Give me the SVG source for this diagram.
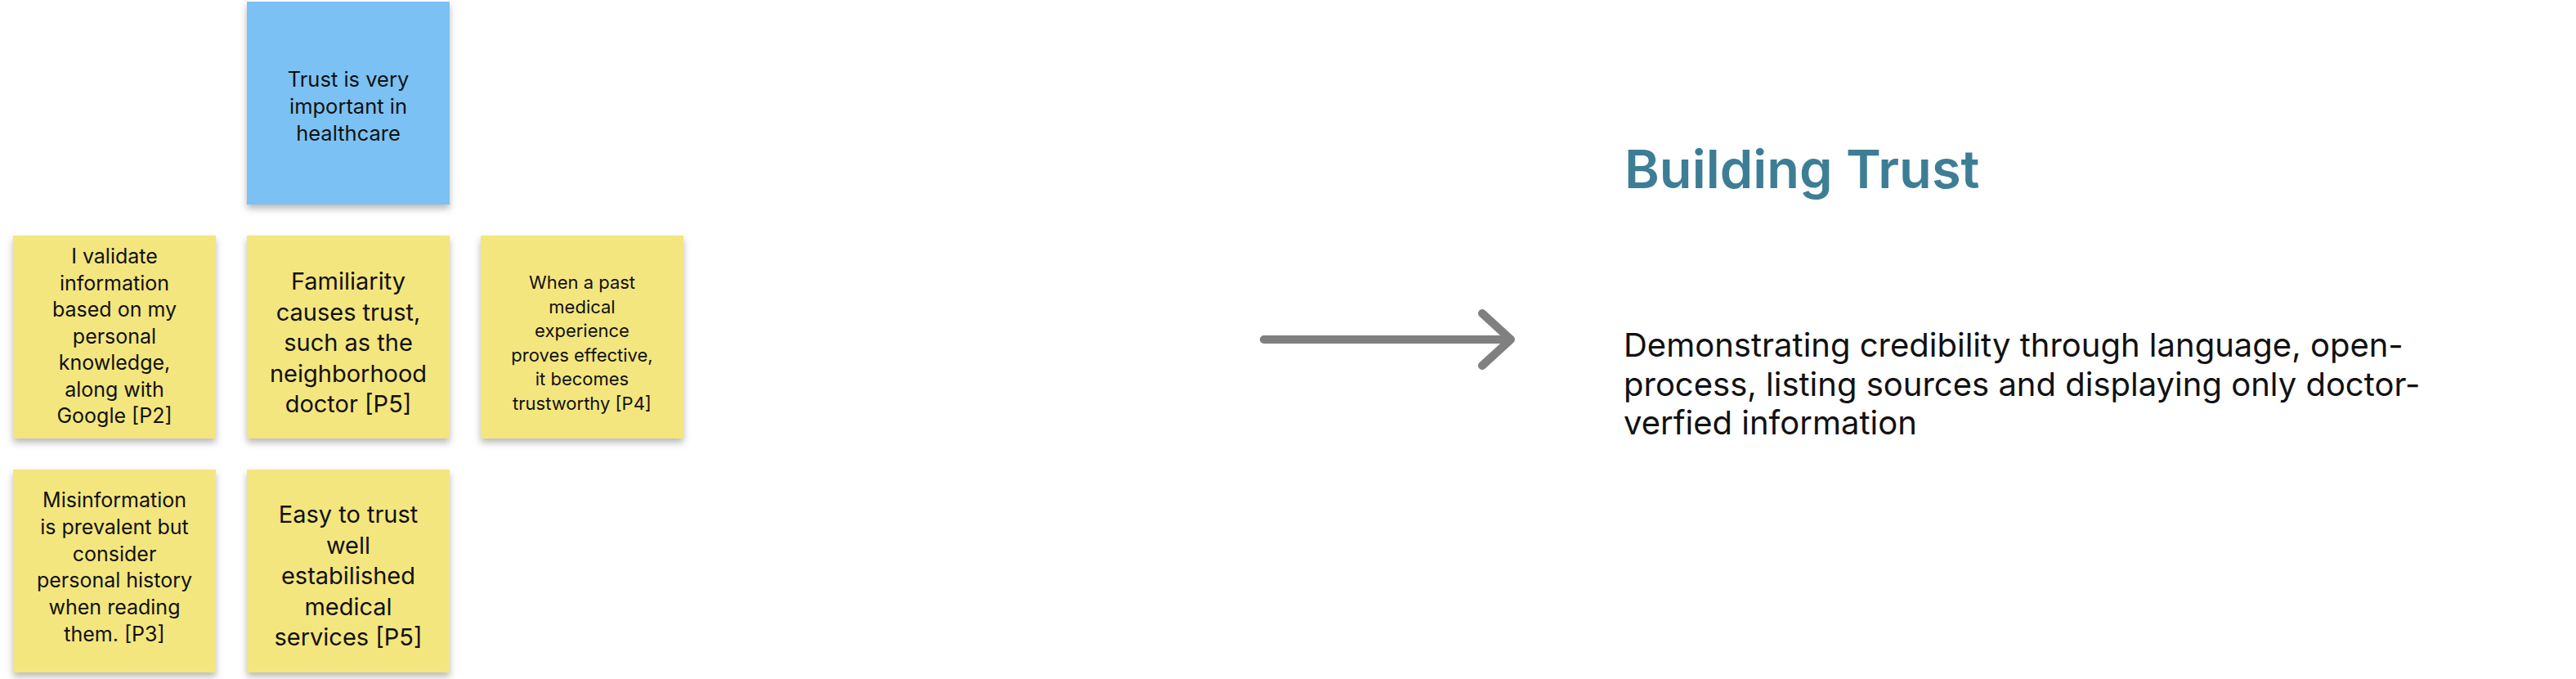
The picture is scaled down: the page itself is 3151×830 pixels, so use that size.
<svg xmlns="http://www.w3.org/2000/svg" width="3151" height="830" viewBox="0 0 3151 830">
<defs>
<filter id="sh" x="-10%" y="-10%" width="125%" height="125%">
<feDropShadow dx="0" dy="5" stdDeviation="4" flood-color="#000" flood-opacity="0.28"/>
</filter>
</defs>
<style>
.note{filter:url(#sh)}
.yellow{fill:#F4E67E}
.blue{fill:#7BC1F3}
.t{font-family:Inter,"Noto Sans","Liberation Sans",sans-serif;fill:#111;text-anchor:middle}
.arrow{stroke:#808080;stroke-width:10;fill:none;stroke-linecap:round;stroke-linejoin:round}
</style>
<rect width="3151" height="830" fill="#ffffff"/>
<g id="n-trust">
<rect class="note blue" x="302" y="2" width="248" height="248"/>
<text class="t" font-size="25.5" x="426"><tspan x="426" y="106">Trust is very</tspan><tspan x="426" y="139">important in</tspan><tspan x="426" y="172">healthcare</tspan></text>
</g>
<g id="n-validate">
<rect class="note yellow" x="16" y="288" width="248" height="248"/>
<text class="t" font-size="25" x="140"><tspan x="140" y="322">I validate</tspan><tspan x="140" y="354.5">information</tspan><tspan x="140" y="387">based on my</tspan><tspan x="140" y="419.5">personal</tspan><tspan x="140" y="452">knowledge,</tspan><tspan x="140" y="484.5">along with</tspan><tspan x="140" y="517">Google [P2]</tspan></text>
</g>
<g id="n-familiarity">
<rect class="note yellow" x="302" y="288" width="248" height="248"/>
<text class="t" font-size="29" x="426"><tspan x="426" y="354">Familiarity</tspan><tspan x="426" y="391.5">causes trust,</tspan><tspan x="426" y="429">such as the</tspan><tspan x="426" y="466.5">neighborhood</tspan><tspan x="426" y="504">doctor [P5]</tspan></text>
</g>
<g id="n-past">
<rect class="note yellow" x="588" y="288" width="248" height="248"/>
<text class="t" font-size="22" x="712"><tspan x="712" y="353">When a past</tspan><tspan x="712" y="382.6">medical</tspan><tspan x="712" y="412.2">experience</tspan><tspan x="712" y="441.8">proves effective,</tspan><tspan x="712" y="471.4">it becomes</tspan><tspan x="712" y="501">trustworthy [P4]</tspan></text>
</g>
<g id="n-misinformation">
<rect class="note yellow" x="16" y="574" width="248" height="248"/>
<text class="t" font-size="25" x="140"><tspan x="140" y="620">Misinformation</tspan><tspan x="140" y="652.8">is prevalent but</tspan><tspan x="140" y="685.6">consider</tspan><tspan x="140" y="718.4">personal history</tspan><tspan x="140" y="751.2">when reading</tspan><tspan x="140" y="784">them. [P3]</tspan></text>
</g>
<g id="n-easy">
<rect class="note yellow" x="302" y="574" width="248" height="248"/>
<text class="t" font-size="29" x="426"><tspan x="426" y="639">Easy to trust</tspan><tspan x="426" y="676.5">well</tspan><tspan x="426" y="714">estabilished</tspan><tspan x="426" y="751.5">medical</tspan><tspan x="426" y="789">services [P5]</tspan></text>
</g>
<g id="connectors">
<path class="arrow" d="M1546 415 H1848 M1813 383 L1848 415 L1813 447"/>
</g>
<g id="n-building-trust">
<text font-family="Inter,'Noto Sans','Liberation Sans',sans-serif" font-weight="600" font-size="65" fill="#3D7E96" x="1987" y="230">Building Trust</text>
<text font-family="Inter,'Noto Sans','Liberation Sans',sans-serif" font-size="40" fill="#111" x="1986"><tspan x="1986" y="436">Demonstrating credibility through language, open-</tspan><tspan x="1986" y="483.5">process, listing sources and displaying only doctor-</tspan><tspan x="1986" y="531">verfied information</tspan></text>
</g>
</svg>
